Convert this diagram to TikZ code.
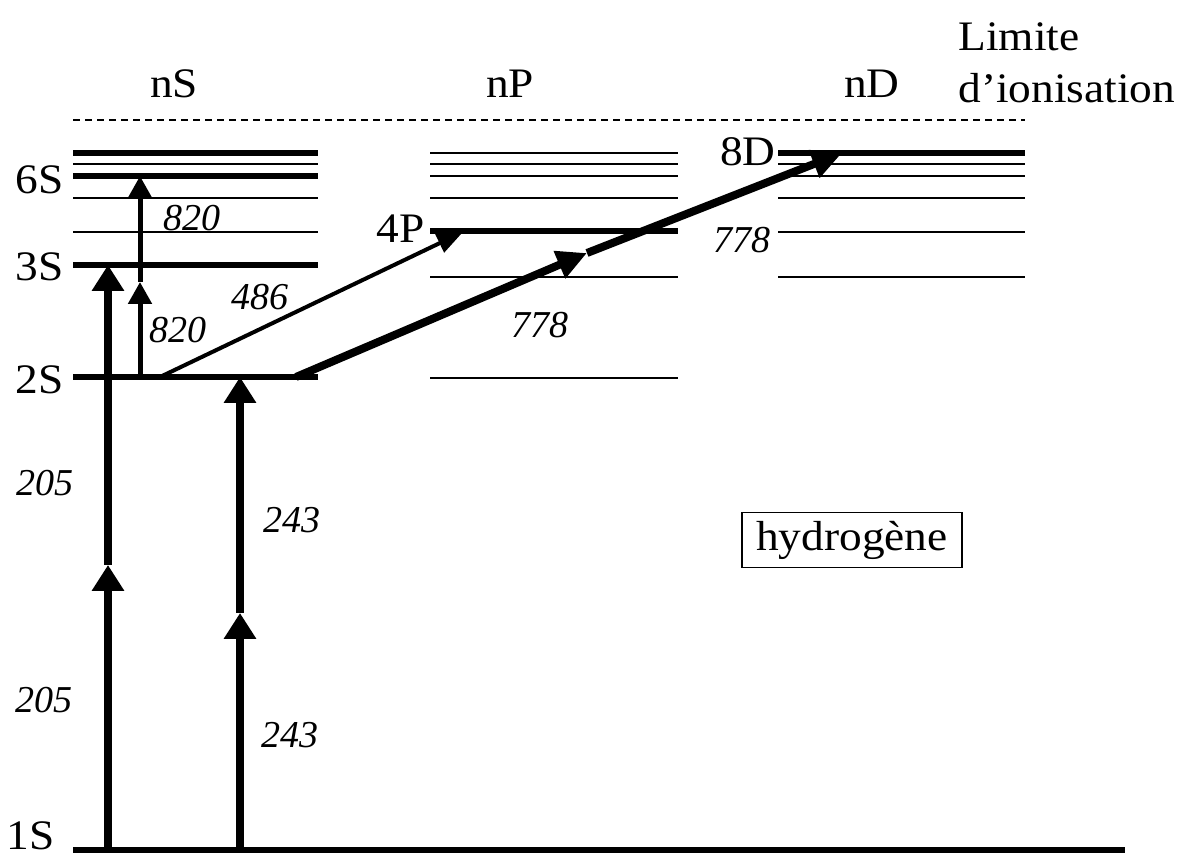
\documentclass[tikz,border=0pt]{standalone}
\usepackage{fontspec}
\setmainfont[FakeStretch=1.08]{Liberation Serif}
\newfontfamily\numfont{Liberation Serif}
\usetikzlibrary{arrows.meta}

\begin{document}
\begin{tikzpicture}[x=0.5pt,y=-0.5pt,
    thinlevel/.style={line width=0.9pt},
    thicklevel/.style={line width=2.6pt},
    lbl/.style={font=\fontsize{21}{26}\selectfont, inner sep=0pt},
    wl/.style={font=\fontsize{19}{22}\numfont\itshape, inner sep=0pt},
    bigarrow/.style={line width=4pt, -{Triangle[length=13pt,width=15.5pt]}},
    midarrow/.style={line width=2.5pt, -{Triangle[length=11pt,width=11.5pt]}},
    fatarrow/.style={line width=4pt, -{Triangle[length=15pt,width=14pt]}},
    slimarrow/.style={line width=2pt, -{Triangle[length=13pt,width=10pt]}}]
    \useasboundingbox (0,0) rectangle (1179,855);
    % Ionisation limit
    \draw[line width=0.7pt, dash pattern=on 3.5pt off 2.5pt] (73,120) -- (1025,120);
    % nS levels
    \draw[thicklevel] (73,153) -- (318,153);
    \draw[thinlevel] (73,164) -- (318,164);
    \draw[thicklevel] (73,176) -- (318,176);
    \draw[thinlevel] (73,198) -- (318,198);
    \draw[thinlevel] (73,232) -- (318,232);
    \draw[thicklevel] (73,265) -- (318,265);
    \draw[thicklevel] (73,377) -- (318,377);
    \draw[line width=3pt] (73,850) -- (1125,850);
    % nP levels
    \draw[thinlevel] (430,153) -- (678,153);
    \draw[thinlevel] (430,164) -- (678,164);
    \draw[thinlevel] (430,176) -- (678,176);
    \draw[thinlevel] (430,198) -- (678,198);
    \draw[thicklevel] (430,231) -- (678,231);
    \draw[thinlevel] (430,277) -- (678,277);
    \draw[thinlevel] (430,378) -- (678,378);
    % nD levels
    \draw[thicklevel] (778,153) -- (1025,153);
    \draw[thinlevel] (778,164) -- (1025,164);
    \draw[thinlevel] (778,176) -- (1025,176);
    \draw[thinlevel] (778,198) -- (1025,198);
    \draw[thinlevel] (778,232) -- (1025,232);
    \draw[thinlevel] (778,277) -- (1025,277);
    % Level names
    \node[lbl, anchor=east] (s6) at (64,180) {6S};
    \node[lbl, anchor=east] (s3) at (64,267) {3S};
    \node[lbl, anchor=east] (s2) at (64,380) {2S};
    \node[lbl, anchor=base east] (s1) at (55,849) {1S};
    \node[lbl, anchor=east] (p4) at (425,229) {4P};
    \node[lbl, anchor=east] (d8) at (776,152) {8D};
    \node[lbl, anchor=base] (nS) at (174,98) {nS};
    \node[lbl, anchor=base] (nP) at (510,98) {nP};
    \node[lbl, anchor=base] (nD) at (872,98) {nD};
    \node[lbl, anchor=north west, align=left] (limit) at (958,22) {Limite\\d’ionisation};
    \node[lbl, draw, line width=0.8pt, minimum width=110pt, minimum height=27.5pt] (atom) at (852,540) {hydrogène};
    % Transition end points
    \coordinate (a1) at (108,850);
    \coordinate (a2) at (108,565);
    \coordinate (a3) at (108,265);
    \coordinate (b1) at (240,850);
    \coordinate (b2) at (240,613);
    \coordinate (b3) at (240,377);
    \coordinate (c1) at (140,377);
    \coordinate (c2) at (140,282);
    \coordinate (c3) at (140,176);
    \coordinate (e1) at (160,377);
    \coordinate (e2) at (463,232);
    \coordinate (f1) at (296,377);
    \coordinate (f2) at (587,253);
    \coordinate (f3) at (842,153);
    % Two-photon 1S-3S (205)
    \draw[bigarrow] (a1) -- (a2);
    \draw[bigarrow] (a2) -- (a3);
    \node[wl] (w205a) at (45,483) {205};
    \node[wl] (w205b) at (44,700) {205};
    % Two-photon 1S-2S (243)
    \draw[bigarrow] (b1) -- (b2);
    \draw[bigarrow] (b2) -- (b3);
    \node[wl] (w243a) at (292,520) {243};
    \node[wl] (w243b) at (290,735) {243};
    % 2S-6S (820)
    \draw[midarrow] (c1) -- (c2);
    \draw[midarrow] (c2) -- (c3);
    \node[wl] (w820a) at (178,330) {820};
    \node[wl] (w820b) at (192,218) {820};
    % 2S-4P (486)
    \draw[slimarrow] (e1) -- (e2);
    \node[wl] (w486) at (260,297) {486};
    % 2S-8D (778)
    \draw[fatarrow] (f1) -- (f2);
    \draw[fatarrow] (f2) -- (f3);
    \node[wl] (w778a) at (540,325) {778};
    \node[wl] (w778b) at (742,240) {778};
\end{tikzpicture}
\end{document}
